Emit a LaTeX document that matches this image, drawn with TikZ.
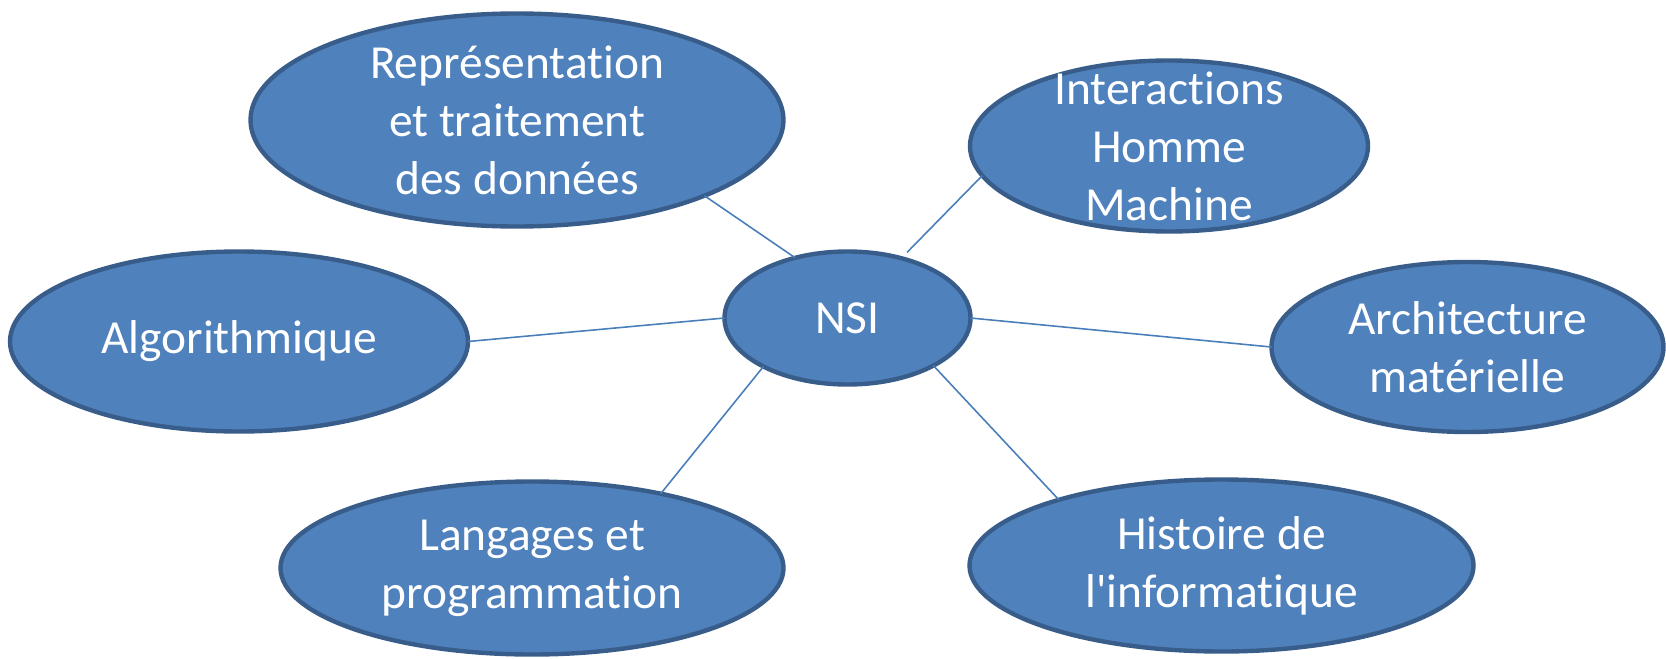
\documentclass[tikz,border=0pt]{standalone}
\usepackage{fontspec}
\setmainfont{Carlito}[Ligatures={NoCommon}]
\usetikzlibrary{shapes.geometric}
\definecolor{topicfill}{HTML}{4F81BD}
\definecolor{topicedge}{HTML}{385D8A}
\definecolor{linkblue}{HTML}{4A7EBB}
\begin{document}
\begin{tikzpicture}[
  topic/.style={ellipse, draw=topicedge, fill=topicfill, line width=1.25pt,
                inner sep=0pt, outer sep=0pt},
  caption/.style={text=white, align=center, inner sep=0pt,
                  font=\fontsize{13.5}{16.5}\selectfont},
  link/.style={draw=linkblue, line width=0.45pt}
]
\useasboundingbox (0,0) rectangle (16.66,-6.58);

% central topic
\node[topic, minimum width=2.46cm, minimum height=1.33cm,
      label={[caption]center:NSI}] (nsi) at (8.475,-3.18) {};

% surrounding topics
\node[topic, minimum width=5.33cm, minimum height=2.13cm,
      label={[caption]center:{Représentation\\et traitement\\des données}}]
      (rep) at (5.17,-1.20) {};
\node[topic, minimum width=3.98cm, minimum height=1.71cm,
      label={[caption]center:{Interactions\\Homme\\Machine}}]
      (int) at (11.69,-1.46) {};
\node[topic, minimum width=4.58cm, minimum height=1.80cm,
      label={[caption]center:Algorithmique}]
      (algo) at (2.39,-3.415) {};
\node[topic, minimum width=3.92cm, minimum height=1.70cm,
      label={[caption]center:{Architecture\\matérielle}}]
      (arch) at (14.675,-3.47) {};
\node[topic, minimum width=5.03cm, minimum height=1.73cm,
      label={[caption]center:{Langages et\\programmation}}]
      (lang) at (5.32,-5.68) {};
\node[topic, minimum width=5.04cm, minimum height=1.72cm,
      label={[caption]center:{Histoire de\\l\textquotesingle informatique}}]
      (hist) at (12.215,-5.655) {};

% connectors
\draw[link] (nsi.131) -- (rep.338);
\draw[link, shorten <=2.3pt] (nsi.48) -- (int.189);
\draw[link] (nsi.180) -- (algo.0);
\draw[link] (nsi.0) -- (arch.180);
\draw[link] (nsi.210) -- (lang.30);
\draw[link] (nsi.331) -- (hist.158);
\end{tikzpicture}
\end{document}
